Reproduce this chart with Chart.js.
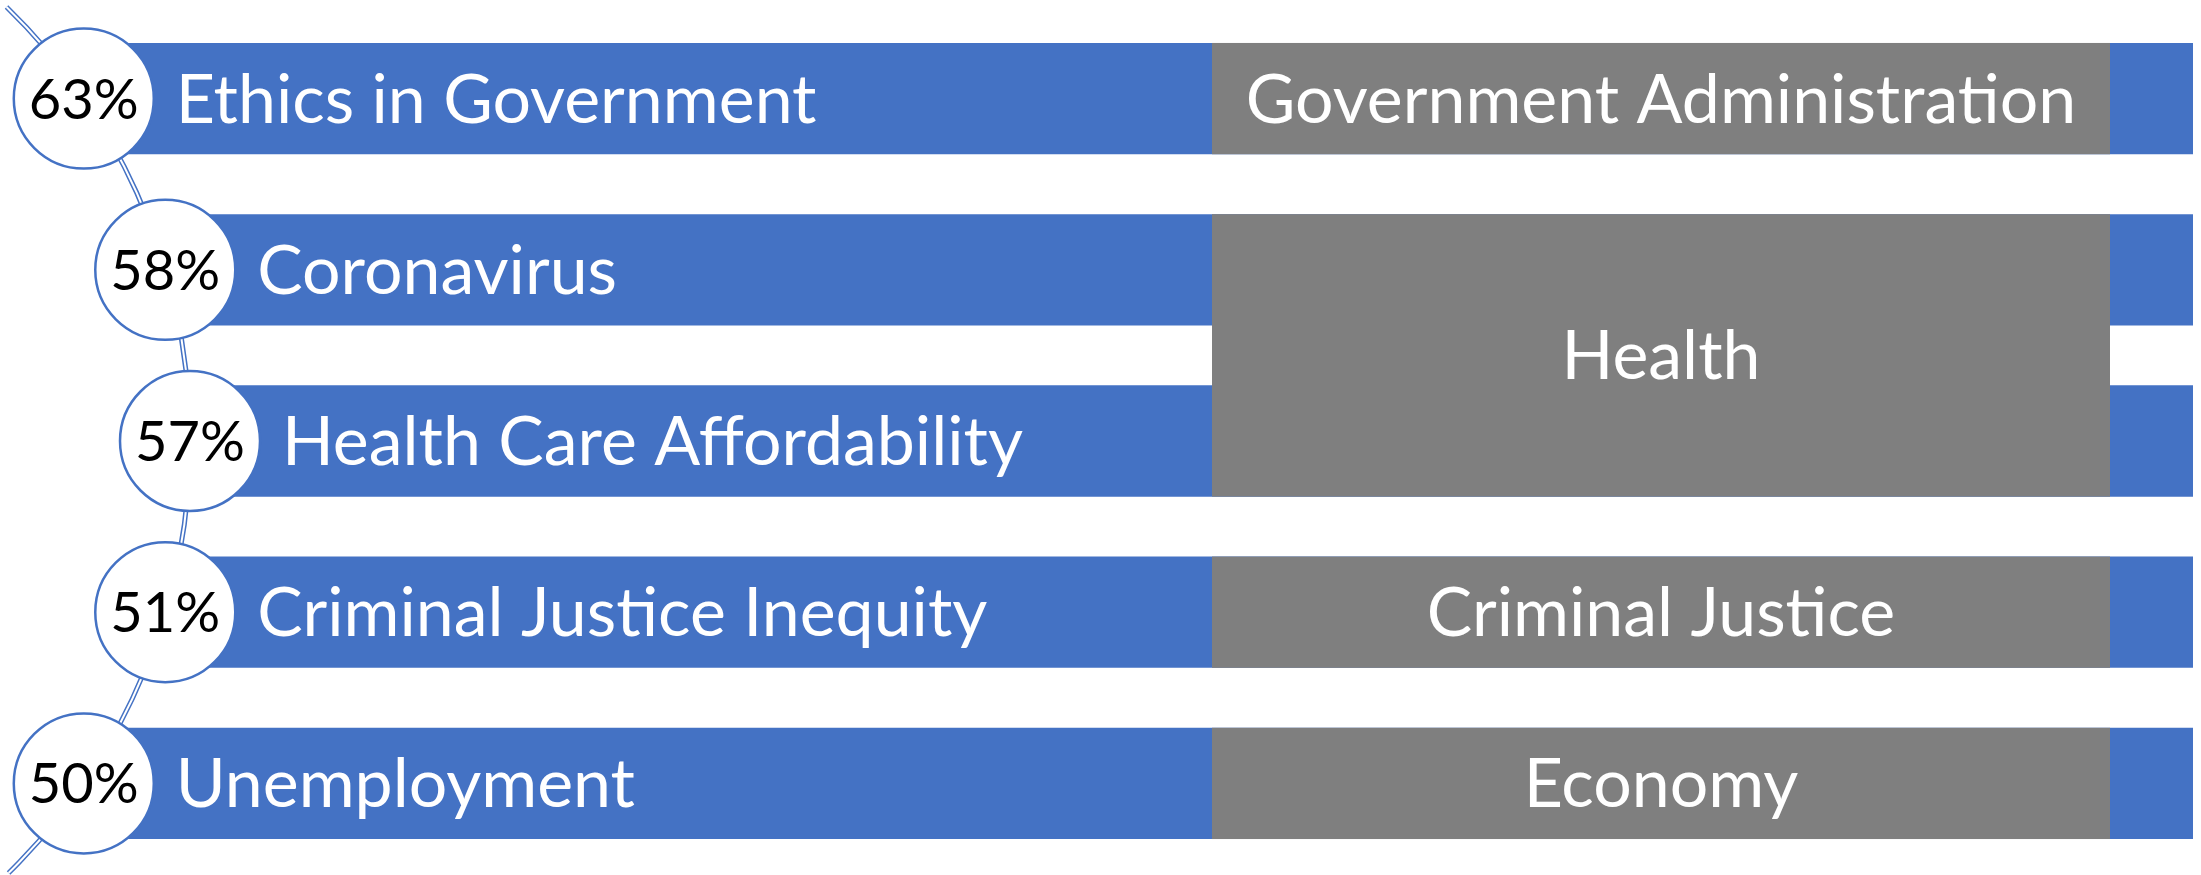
<!DOCTYPE html>
<html>
<head>
<meta charset="utf-8">
<script src="https://cdn.jsdelivr.net/npm/chart.js@4"></script>
<style>
  html, body { margin: 0; padding: 0; background: #fff; }
  canvas { display: block; }
</style>
</head>
<body>
<canvas id="topicChart" width="2201" height="875"></canvas>
<script>
// 항목별 데이터
const topics = ['Ethics in Government', 'Coronavirus', 'Health Care Affordability', 'Criminal Justice Inequity', 'Unemployment'];
const shares = [63, 58, 57, 51, 50];
const groups = ['Government Administration', 'Health', 'Health', 'Criminal Justice', 'Economy'];

// layout (x axis in canvas-width units)
const WIDTH = 2201;
const BAR_TO = 2193;
const GROUP_FROM = 1212, GROUP_TO = 2110;
const ROW_PX = 171.2;
const ARC_MID_X = 190, ARC_R = 605;
const BLUE = '#4472C4', GRAY = '#7F7F7F';
const FONT = 'Lato, "Open Sans", sans-serif';

// 원이 놓이는 호 위의 x 위치
function arcX(i) {
    const dy = (i - (topics.length - 1) / 2) * ROW_PX;
    return ARC_MID_X - ARC_R + Math.sqrt(ARC_R * ARC_R - dy * dy);
}

// 왼쪽 이중 곡선
const arcPlugin = {
    id: 'arcLine',
    beforeDatasetsDraw(chart) {
        const ctx = chart.ctx;
        const x = chart.scales.x, y = chart.scales.y;
        const cy = y.getPixelForValue((topics.length - 1) / 2);
        const cx = x.getPixelForValue(ARC_MID_X - ARC_R);
        const r = x.getPixelForValue(ARC_MID_X) - cx;
        const a0 = Math.asin((7 - cy) / r), a1 = Math.asin((chart.height - 2 - cy) / r);
        ctx.save();
        ctx.lineCap = 'butt';
        ctx.beginPath();
        ctx.arc(cx, cy, r, a0, a1);
        ctx.strokeStyle = BLUE;
        ctx.lineWidth = 5;
        ctx.stroke();
        ctx.strokeStyle = '#fff';
        ctx.lineWidth = 2;
        ctx.stroke();
        ctx.restore();
    }
};

// 회색 분류 박스와 글자
const labelPlugin = {
    id: 'labels',
    afterDatasetsDraw(chart) {
        const ctx = chart.ctx;
        const x = chart.scales.x;
        const bars = chart.getDatasetMeta(1).data;
        const dots = chart.getDatasetMeta(0).data;
        ctx.save();

        // group boxes
        let start = 0;
        for (let i = 1; i <= groups.length; i++) {
            if (i < groups.length && groups[i] === groups[start]) continue;
            const top = bars[start].y - bars[start].height / 2;
            const bottom = bars[i - 1].y + bars[i - 1].height / 2;
            const left = x.getPixelForValue(GROUP_FROM), right = x.getPixelForValue(GROUP_TO);
            ctx.fillStyle = GRAY;
            ctx.fillRect(left, top, right - left, bottom - top);
            ctx.fillStyle = '#fff';
            ctx.font = '68px ' + FONT;
            ctx.textAlign = 'center';
            ctx.textBaseline = 'alphabetic';
            ctx.fillText(groups[start], (left + right) / 2, (top + bottom) / 2 + 24);
            start = i;
        }

        // topic names + percents
        for (let i = 0; i < topics.length; i++) {
            const d = dots[i];
            ctx.font = '68px ' + FONT;
            ctx.textBaseline = 'alphabetic';
            ctx.textAlign = 'left';
            ctx.fillStyle = '#fff';
            ctx.fillText(topics[i], d.x + 70 + 22, bars[i].y + 24);
            ctx.font = '56px ' + FONT;
            ctx.textAlign = 'center';
            ctx.fillStyle = '#000';
            ctx.fillText(shares[i] + '%', d.x, d.y + 20);
        }
        ctx.restore();
    }
};

new Chart(document.getElementById('topicChart'), {
    type: 'bar',
    data: {
        labels: topics,
        datasets: [{
            type: 'line',
            label: 'share',
            data: topics.map((t, i) => ({ x: arcX(i), y: t })),
            showLine: false,
            pointRadius: 70,
            pointHoverRadius: 70,
            pointBackgroundColor: '#fff',
            pointBorderColor: BLUE,
            pointBorderWidth: 2.5,
            clip: false,
            order: 0
        }, {
            label: 'topic',
            data: topics.map((t, i) => [arcX(i), BAR_TO]),
            backgroundColor: BLUE,
            borderWidth: 0,
            categoryPercentage: 1,
            barPercentage: 0.65,
            order: 1
        }]
    },
    options: {
        indexAxis: 'y',
        responsive: false,
        devicePixelRatio: 1,
        animation: false,
        layout: { autoPadding: false, padding: { top: 13, bottom: 6, left: 0, right: 0 } },
        scales: {
            x: { type: 'linear', min: 0, max: WIDTH, display: false },
            y: { display: false }
        },
        plugins: {
            legend: { display: false },
            tooltip: { enabled: false }
        }
    },
    plugins: [arcPlugin, labelPlugin]
});
</script>
</body>
</html>
